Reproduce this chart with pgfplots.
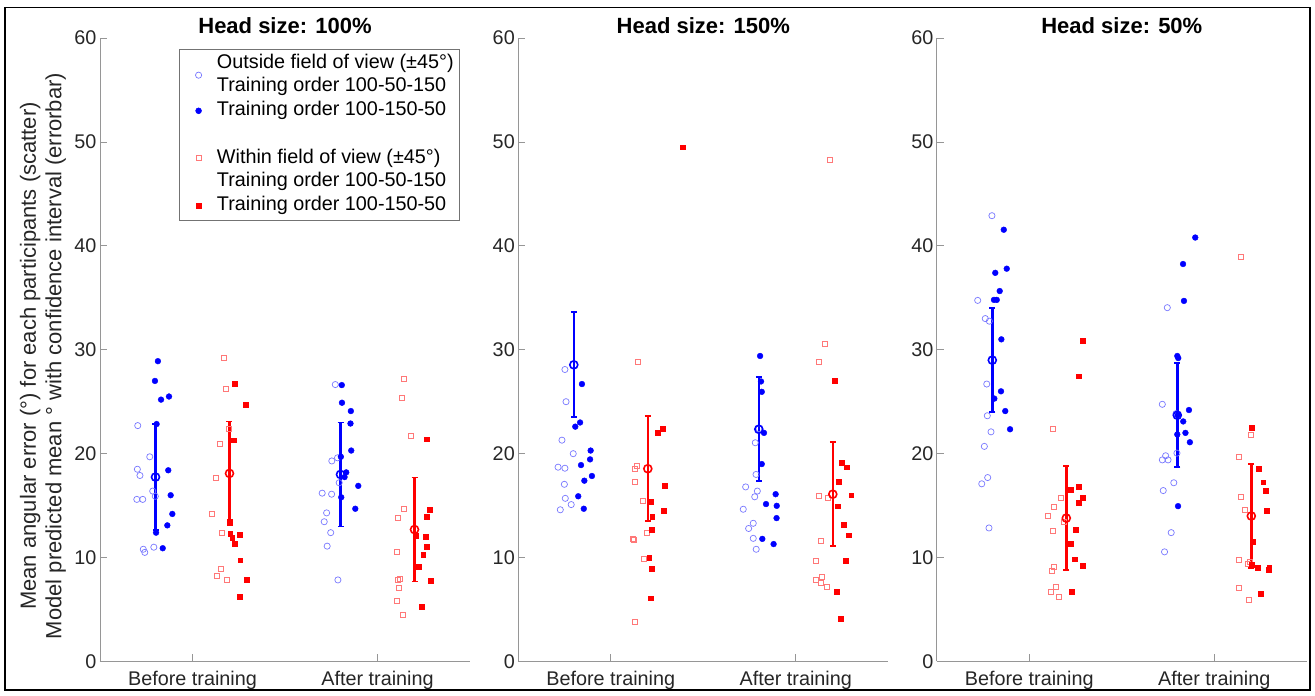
\documentclass[border=0pt]{standalone}
\usepackage{fontspec}
\setmainfont{Liberation Sans}
\usepackage{pgfplots}
\usepackage{pgfplotstable}
\pgfplotsset{compat=1.18}
\definecolor{bluelight}{RGB}{120,120,255}
\definecolor{redlight}{RGB}{255,120,120}
\definecolor{axgray}{RGB}{150,150,150}
\definecolor{txt}{RGB}{38,38,38}

% ---------- Panel 1 : Head size 100% ----------
\pgfplotstableread{
x y
0.704 22.7
0.769 19.7
0.702 18.5
0.716 17.9
0.785 16.4
0.799 15.9
0.699 15.6
0.731 15.6
0.734 10.8
0.742 10.5
0.791 11.0
1.772 26.65
1.753 19.3
1.784 19.6
1.793 17.2
1.701 16.2
1.752 16.1
1.725 14.3
1.712 13.45
1.747 12.4
1.728 11.1
1.786 7.85
}\BOpenA
\pgfplotstableread{
x y
0.813 28.9
0.797 27.0
0.830 25.2
0.873 25.5
0.806 22.85
0.869 18.4
0.882 16.0
0.891 14.2
0.864 13.1
0.803 12.4
0.839 10.9
1.807 26.6
1.808 24.9
1.856 24.1
1.854 22.9
1.858 20.3
1.802 19.7
1.831 18.2
1.822 17.75
1.896 16.9
1.804 15.8
1.880 14.7
}\BFillA
\pgfplotstableread{
x y
1.195 22.4
1.149 20.95
1.126 17.7
1.105 14.25
1.161 12.35
1.153 8.9
1.129 8.2
1.185 7.85
1.170 29.2
1.181 26.2
2.142 27.2
2.132 25.4
2.181 21.7
2.145 14.7
2.112 13.8
2.104 10.55
2.122 8.0
2.109 7.9
2.116 7.1
2.104 5.8
2.138 4.5
}\ROpenA
\pgfplotstableread{
x y
1.288 24.7
1.223 21.3
1.201 13.5
1.204 12.3
1.215 11.9
1.257 12.2
1.226 11.3
1.258 9.75
1.293 7.85
1.257 6.2
1.230 26.7
2.266 21.4
2.280 14.6
2.268 13.9
2.208 12.1
2.262 12.0
2.266 11.05
2.247 10.3
2.224 9.1
2.288 7.8
2.239 5.3
}\RFillA
\pgfplotstableread{
x y e
0.8 17.75 5.1
1.8 18.0 5.0
}\BErrA
\pgfplotstableread{
x y e
1.2 18.1 5.0
2.2 12.7 5.0
}\RErrA

% ---------- Panel 2 : Head size 150% ----------
\pgfplotstableread{
x y
0.752 28.1
0.758 25.0
0.736 21.3
0.797 20.0
0.715 18.7
0.752 18.6
0.749 17.05
0.754 15.7
0.786 15.1
0.727 14.6
1.801 22.4
1.781 21.05
1.785 18.0
1.729 16.8
1.792 16.4
1.778 15.85
1.716 14.65
1.770 13.3
1.745 12.8
1.770 11.85
1.786 10.8
}\BOpenB
\pgfplotstableread{
x y
0.844 26.7
0.834 23.0
0.808 22.6
0.891 20.3
0.888 19.45
0.839 18.9
0.898 17.85
0.857 17.4
0.824 15.9
0.854 14.7
1.807 29.4
1.812 26.95
1.816 25.95
1.828 22.0
1.816 19.0
1.891 16.1
1.839 15.15
1.897 14.98
1.896 13.8
1.819 11.8
1.880 11.3
}\BFillB
\pgfplotstableread{
x y
1.147 28.8
1.143 18.8
1.129 18.5
1.132 17.3
1.174 15.5
1.196 12.4
1.118 11.8
1.122 11.7
1.179 9.9
1.132 3.8
2.186 48.3
2.156 30.6
2.124 28.8
2.124 15.9
2.172 15.75
2.135 11.65
2.108 9.65
2.142 8.1
2.111 7.85
2.138 7.6
2.169 7.15
}\ROpenB
\pgfplotstableread{
x y
1.281 22.4
1.255 22.0
1.293 16.9
1.216 15.35
1.286 14.5
1.224 13.9
1.223 12.7
1.208 10.0
1.219 8.9
1.214 6.1
1.390 49.5
2.212 27.0
2.248 19.1
2.277 18.7
2.234 17.3
2.299 16.0
2.227 14.95
2.261 13.15
2.288 12.15
2.270 9.7
2.223 6.7
2.243 4.1
}\RFillB
\pgfplotstableread{
x y e
0.8 28.55 5.05
1.8 22.35 5.0
}\BErrB
\pgfplotstableread{
x y e
1.2 18.55 5.05
2.2 16.1 5.0
}\RErrB

% ---------- Panel 3 : Head size 50% ----------
\pgfplotstableread{
x y
0.798 42.9
0.721 34.75
0.762 33.0
0.784 32.75
0.770 26.7
0.773 23.65
0.793 22.1
0.757 20.7
0.775 17.7
0.743 17.1
0.782 12.85
1.746 34.05
1.719 24.75
1.793 23.85
1.798 20.05
1.737 19.8
1.719 19.4
1.750 19.4
1.781 17.2
1.724 16.45
1.767 12.4
1.731 10.55
}\BOpenC
\pgfplotstableread{
x y
0.862 41.55
0.878 37.8
0.816 37.4
0.840 35.65
0.809 34.8
0.824 34.8
0.849 31.0
0.847 26.0
0.811 25.3
0.870 24.1
0.896 22.35
1.897 40.8
1.831 38.25
1.836 34.7
1.800 29.4
1.805 29.2
1.863 24.2
1.802 23.7
1.832 23.1
1.844 22.0
1.800 21.85
1.868 21.1
1.804 14.95
}\BFillC
\pgfplotstableread{
x y
1.126 22.4
1.173 15.75
1.134 14.85
1.099 14.0
1.184 13.4
1.128 12.6
1.134 9.1
1.123 8.7
1.143 7.2
1.116 6.7
1.157 6.2
2.141 38.95
2.200 21.8
2.134 19.7
2.146 15.8
2.166 14.6
2.134 9.75
2.191 9.6
2.183 9.4
2.134 7.1
2.188 5.9
}\ROpenC
\pgfplotstableread{
x y
1.289 30.9
1.267 27.45
1.267 16.85
1.224 16.55
1.290 15.8
1.265 15.25
1.251 12.7
1.225 11.3
1.245 9.85
1.290 9.25
1.229 6.7
2.204 22.5
2.238 18.55
2.264 17.25
2.276 16.45
2.283 14.5
2.207 11.55
2.204 9.3
2.235 9.05
2.297 9.0
2.295 8.85
2.249 6.5
}\RFillC
\pgfplotstableread{
x y e
0.8 29.0 5.0
1.8 23.7 5.0
}\BErrC
\pgfplotstableread{
x y e
1.2 13.8 5.0
2.2 14.0 5.0
}\RErrC

\pgfplotsset{
  panel/.style={
    scale only axis, width=370pt, height=623.5pt, anchor=south west,
    xmin=0.5, xmax=2.5, ymin=0, ymax=60,
    xtick={1,2}, xticklabels={Before training, After training},
    ytick={0,10,...,60},
    axis x line*=bottom, axis y line*=left,
    axis line style={-, draw=axgray, line width=0.8pt},
    tick align=inside, major tick length=7pt,
    tick style={draw=axgray, line width=0.8pt},
    tick label style={font=\fontsize{19.8}{23.8}\selectfont, text=txt},
    /pgf/number format/assume math mode=true,
    xticklabel style={anchor=base, yshift=-24.5pt},
    title style={font=\bfseries\fontsize{22}{26}\selectfont, at={(axis description cs:0.5,1)}, anchor=base, yshift=-2pt},
  },
  limg/.style={legend image code/.code={\path[draw=none,fill=none] (0pt,0pt) -- (31.4pt,0pt); \draw[##1] plot coordinates {(13pt,0pt)};}},
  limgshift/.style={legend image code/.code={\path[draw=none,fill=none] (0pt,0pt) -- (31.4pt,0pt); \draw[##1, overlay] plot coordinates {(13pt,-11.88pt)};}},
  bo/.style={only marks, mark=o, mark size=3.1pt, mark options={draw=bluelight, line width=0.7pt}},
  bf/.style={only marks, mark=*, mark size=2.9pt, mark options={draw=blue, fill=blue}},
  ro/.style={only marks, mark=square, mark size=2.5pt, mark options={draw=redlight, line width=0.7pt}},
  rf/.style={only marks, mark=square*, mark size=2.4pt, mark options={draw=red, fill=red}},
  be/.style={forget plot, blue, only marks, mark=o, mark size=4pt, mark options={line width=1.6pt, draw=blue},
    error bars/.cd, y dir=both, y explicit, error bar style={line width=2.4pt, blue},
    error mark=|, error mark options={mark size=3pt, line width=1.8pt, blue}},
  re/.style={forget plot, red, only marks, mark=o, mark size=4pt, mark options={line width=1.6pt, draw=red},
    error bars/.cd, y dir=both, y explicit, error bar style={line width=2.4pt, red},
    error mark=|, error mark options={mark size=3pt, line width=1.8pt, red}},
}

\begin{document}
\begin{tikzpicture}
\useasboundingbox (0pt,0pt) rectangle (1315pt,696pt);
\draw[line width=1.2pt, black] (5pt,6pt) rectangle (1310pt,688.7pt);

\begin{axis}[panel, at={(100pt,34.5pt)}, title={Head size: 100\%},
  ylabel={Mean angular error (°) for each participants (scatter)\\Model predicted mean ° with confidence interval (errorbar)},
  ylabel style={font=\fontsize{22}{25.5}\selectfont, align=center, at={(axis description cs:-0.154,0.49)}, anchor=center, text=txt},
  legend cell align=left,
  legend style={at={(axis description cs:0.2143,0.9825)}, anchor=north west, draw=black!55, line width=0.6pt,
    inner xsep=6pt, inner ysep=2.2pt, row sep=0pt, column sep=0pt,
    font=\fontsize{19.8}{23.76}\selectfont,
    nodes={inner sep=0pt, text height=16.63pt, text depth=7.13pt, text=black}},
]
% legend rows (7 text lines, markers where the reference puts them)
\addlegendimage{bo, limgshift}
\addlegendentry{Outside field of view (±45°)}
\addlegendimage{limg, draw=none, mark=none}
\addlegendentry{Training order 100-50-150}
\addlegendimage{bf, limg}
\addlegendentry{Training order 100-150-50}
\addlegendimage{limg, draw=none, mark=none}
\addlegendentry{}
\addlegendimage{ro, limg}
\addlegendentry{Within field of view (±45°)}
\addlegendimage{limg, draw=none, mark=none}
\addlegendentry{Training order 100-50-150}
\addlegendimage{rf, limg}
\addlegendentry{Training order 100-150-50}

\addplot[bo, forget plot] table[x=x,y=y]{\BOpenA};
\addplot[bf, forget plot] table[x=x,y=y]{\BFillA};
\addplot[ro, forget plot] table[x=x,y=y]{\ROpenA};
\addplot[rf, forget plot] table[x=x,y=y]{\RFillA};
\addplot[be] table[x=x,y=y,y error=e]{\BErrA};
\addplot[re] table[x=x,y=y,y error=e]{\RErrA};
\end{axis}

\begin{axis}[panel, at={(518.3pt,34.5pt)}, title={Head size: 150\%}]
\addplot[bo] table[x=x,y=y]{\BOpenB};
\addplot[bf] table[x=x,y=y]{\BFillB};
\addplot[ro] table[x=x,y=y]{\ROpenB};
\addplot[rf] table[x=x,y=y]{\RFillB};
\addplot[be] table[x=x,y=y,y error=e]{\BErrB};
\addplot[re] table[x=x,y=y,y error=e]{\RErrB};
\end{axis}

\begin{axis}[panel, at={(936.8pt,34.5pt)}, title={Head size: 50\%}]
\addplot[bo] table[x=x,y=y]{\BOpenC};
\addplot[bf] table[x=x,y=y]{\BFillC};
\addplot[ro] table[x=x,y=y]{\ROpenC};
\addplot[rf] table[x=x,y=y]{\RFillC};
\addplot[be] table[x=x,y=y,y error=e]{\BErrC};
\addplot[re] table[x=x,y=y,y error=e]{\RErrC};
\end{axis}
\end{tikzpicture}
\end{document}
